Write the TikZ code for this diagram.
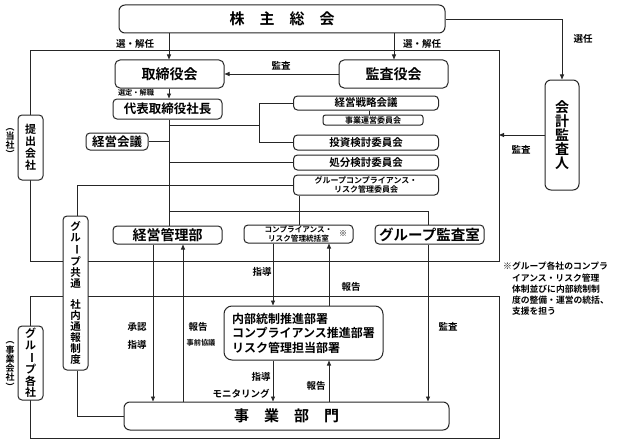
\documentclass[tikz,border=0pt]{standalone}
\usepackage{fontspec}
\usepackage{graphicx}
\setmainfont{Noto Sans CJK JP}[BoldFont={Noto Sans CJK JP Bold}]
\usetikzlibrary{arrows.meta,calc}
\newcommand{\fs}[2]{\fontsize{#1}{#2}\selectfont}
\newcommand{\vbar}{\rotatebox[origin=c]{-90}{ー}}
\begin{document}
\begin{tikzpicture}[x=1pt,y=-1pt,
  font=\bfseries,
  ln/.style={draw=black!85, line width=0.9pt},
  arr/.style={ln, -{Triangle[length=5pt,width=4pt]}},
  box/.style={draw=black!85, line width=1pt, rounded corners=4pt, fill=white, inner sep=0pt, align=center},
  lab/.style={inner sep=0pt, font=\bfseries\fs{9.5}{10}},
  slab/.style={inner sep=0pt, font=\bfseries\fs{7.2}{8}},
]
\useasboundingbox (0,0) rectangle (621,444);

% outer frames
\draw[ln] (30,50) rectangle (499,261);
\draw[ln] (30,296) rectangle (499,438);

% boxes
\node[box, minimum width=326pt, minimum height=28pt, rounded corners=6pt, font=\bfseries\fs{15}{15}] (soukai) at (282,19) {株　主　総　会};
\node[box, minimum width=109pt, minimum height=28pt, rounded corners=5pt, font=\bfseries\fs{14}{14}] (tori) at (169.5,74) {取締役会};
\node[box, minimum width=109pt, minimum height=28pt, rounded corners=5pt, font=\bfseries\fs{14}{14}] (kansa) at (393.5,74) {監査役会};
\node[box, minimum width=109pt, minimum height=20pt, font=\bfseries\fs{12.5}{12.5}] (daihyo) at (167.5,109) {代表取締役社長};
\node[box, minimum width=62pt, minimum height=17pt, font=\bfseries\fs{12.5}{12.5}] (kaigi) at (117,141.5) {経営会議};
\node[box, minimum width=145pt, minimum height=14pt, font=\bfseries\fs{10.5}{10.5}] (senryaku) at (366,103) {経営戦略会議};
\node[box, minimum width=100pt, minimum height=10pt, rounded corners=2.5pt, font=\bfseries\fs{8}{8}] (unei) at (373,120) {事業運営委員会};
\node[box, minimum width=145pt, minimum height=15pt, font=\bfseries\fs{10.5}{10.5}] (toushi) at (366,142.5) {投資検討委員会};
\node[box, minimum width=145pt, minimum height=15pt, font=\bfseries\fs{10.5}{10.5}] (shobun) at (366,162.5) {処分検討委員会};
\node[box, minimum width=145pt, minimum height=20pt, font=\bfseries\fs{8}{9.5}] (gcomp) at (366,185) {グループコンプライアンス・\\リスク管理委員会};
\node[box, minimum width=109pt, minimum height=18pt, font=\bfseries\fs{14}{14}] (keieikanri) at (167.5,235) {経営管理部};
\node[box, minimum width=109pt, minimum height=18pt, font=\bfseries\fs{7.6}{9.5}] (compl) at (298.5,234) {コンプライアンス・\\リスク管理統括室};
\node[inner sep=0pt, font=\bfseries\fs{8}{8}] (kome) at (343,234) {※};
\node[box, minimum width=109pt, minimum height=19pt, font=\bfseries\fs{14.5}{14.5}] (gkansa) at (429.5,234.5) {グループ監査室};
\node[box, minimum width=34pt, minimum height=110pt, rounded corners=6pt, font=\bfseries\fs{14}{14}] (kaikei) at (562,135) {会\\計\\監\\査\\人};
\node[box, minimum width=25pt, minimum height=65pt, font=\bfseries\fs{11}{12}] (teishutsu) at (30.5,147.5) {提\\出\\会\\社};
\node[box, minimum width=25pt, minimum height=154pt, font=\bfseries\fs{10.5}{11}] (gkyoutsu) at (75.5,293) {グ\\ル\\\vbar\\プ\\共\\通\\[10pt]社\\内\\通\\報\\制\\度};
\node[box, minimum width=25pt, minimum height=74pt, font=\bfseries\fs{11}{11.5}] (gkakusha) at (30.5,363) {グ\\ル\\\vbar\\プ\\各\\社};
\node[inner sep=0pt, align=center, font=\bfseries\fs{9}{9}] (tousha) at (10,143) {︵\\当\\社\\︶};
\node[inner sep=0pt, align=center, font=\bfseries\fs{9}{9.3}] (jigyougaisha) at (10,366) {︵\\事\\業\\会\\社\\︶};
\node[box, minimum width=159pt, minimum height=54pt, rounded corners=8pt, align=left, font=\bfseries\fs{12}{14.5}] (naibu) at (303.5,333) {内部統制推進部署\\コンプライアンス推進部署\\リスク管理担当部署};
\node[box, minimum width=325pt, minimum height=28pt, rounded corners=6pt, font=\bfseries\fs{15}{15}] (jigyoubu) at (286.5,416) {事　業　部　門};

% helper x positions
\coordinate (c77) at (77,0);
\coordinate (c153) at (153,0);
\coordinate (c169) at (169,0);
\coordinate (c183) at (183,0);
\coordinate (c259) at (259,0);
\coordinate (c273) at (273,0);
\coordinate (c299) at (299,0);
\coordinate (c329) at (329,0);
\coordinate (c369) at (369,0);
\coordinate (c394) at (394,0);
\coordinate (c428) at (428,0);
\coordinate (j125) at (169,125);
\coordinate (j211) at (169,211);
\coordinate (redge) at (499,135);

% upper connectors
\draw[arr] (soukai.south -| c169) -- (tori.north -| c169);
\draw[arr] (soukai.south -| c394) -- (kansa.north -| c394);
\draw[arr] (soukai.east) -| (kaikei.north);
\draw[arr] (kansa.west) -- (tori.east);
\draw[arr] (tori.south -| c169) -- (daihyo.north -| c169);
\draw[arr] (kaikei.west) -- (redge);
\draw[ln] (daihyo.south -| c169) -- (keieikanri.north -| c169);
\draw[ln] (kaigi.east) -- (kaigi.east -| c169);
\draw[ln] (j125) -- (j125 -| c259);
\draw[ln] (senryaku.west) -| (c259 |- toushi.west) -- (toushi.west);
\draw[ln] (senryaku.south -| c369) -- (unei.north -| c369);
\draw[ln] (shobun.west) -- (shobun.west -| c169);
\draw[ln] (gkyoutsu.north -| c77) |- (gcomp.west);
\draw[ln] (gcomp.south -| c299) -- (compl.north -| c299);
\draw[ln] (j211) -- (j211 -| c428) -- (gkansa.north -| c428);

% lower connectors
\draw[arr] (keieikanri.south -| c153) -- (jigyoubu.north -| c153);
\draw[arr] (jigyoubu.north -| c183) -- (keieikanri.south -| c183);
\draw[arr] (compl.south -| c273) -- (naibu.north -| c273);
\draw[arr] (naibu.north -| c329) -- (compl.south -| c329);
\draw[arr] (naibu.south -| c273) -- (jigyoubu.north -| c273);
\draw[arr] (jigyoubu.north -| c329) -- (naibu.south -| c329);
\draw[arr] (gkansa.south -| c428) -- (jigyoubu.north -| c428);
\draw[ln] (gkyoutsu.south -| c77) |- (jigyoubu.west);

% labels
\node[lab] (l1) at (135,44) {選・解任};
\node[lab] (l2) at (422,44) {選・解任};
\node[lab] (l3) at (583,39) {選任};
\node[lab] (l4) at (281,66) {監査};
\node[slab] (l5) at (136,93) {選定・解職};
\node[lab] (l6) at (521,150) {監査};
\node[lab] (l7) at (137,327) {承認};
\node[lab] (l8) at (137,345) {指導};
\node[lab] (l9) at (198,327) {報告};
\node[slab] (l10) at (201,343) {事前協議};
\node[lab] (l11) at (262,272) {指導};
\node[lab] (l12) at (351,287) {報告};
\node[lab] (l13) at (448,327) {監査};
\node[lab] (l14) at (261,377) {指導};
\node[lab] (l15) at (241,394) {モニタリング};
\node[lab] (l16) at (316,386) {報告};

% note
\node[anchor=north west, inner sep=0pt, align=left, font=\bfseries\fs{8.8}{11.2}] (note) at (503,262)
  {※グループ各社のコンプラ\\\phantom{※}イアンス・リスク管理\\\phantom{※}体制並びに内部統制制\\\phantom{※}度の整備・運営の統括、\\\phantom{※}支援を担う};
\end{tikzpicture}
\end{document}
